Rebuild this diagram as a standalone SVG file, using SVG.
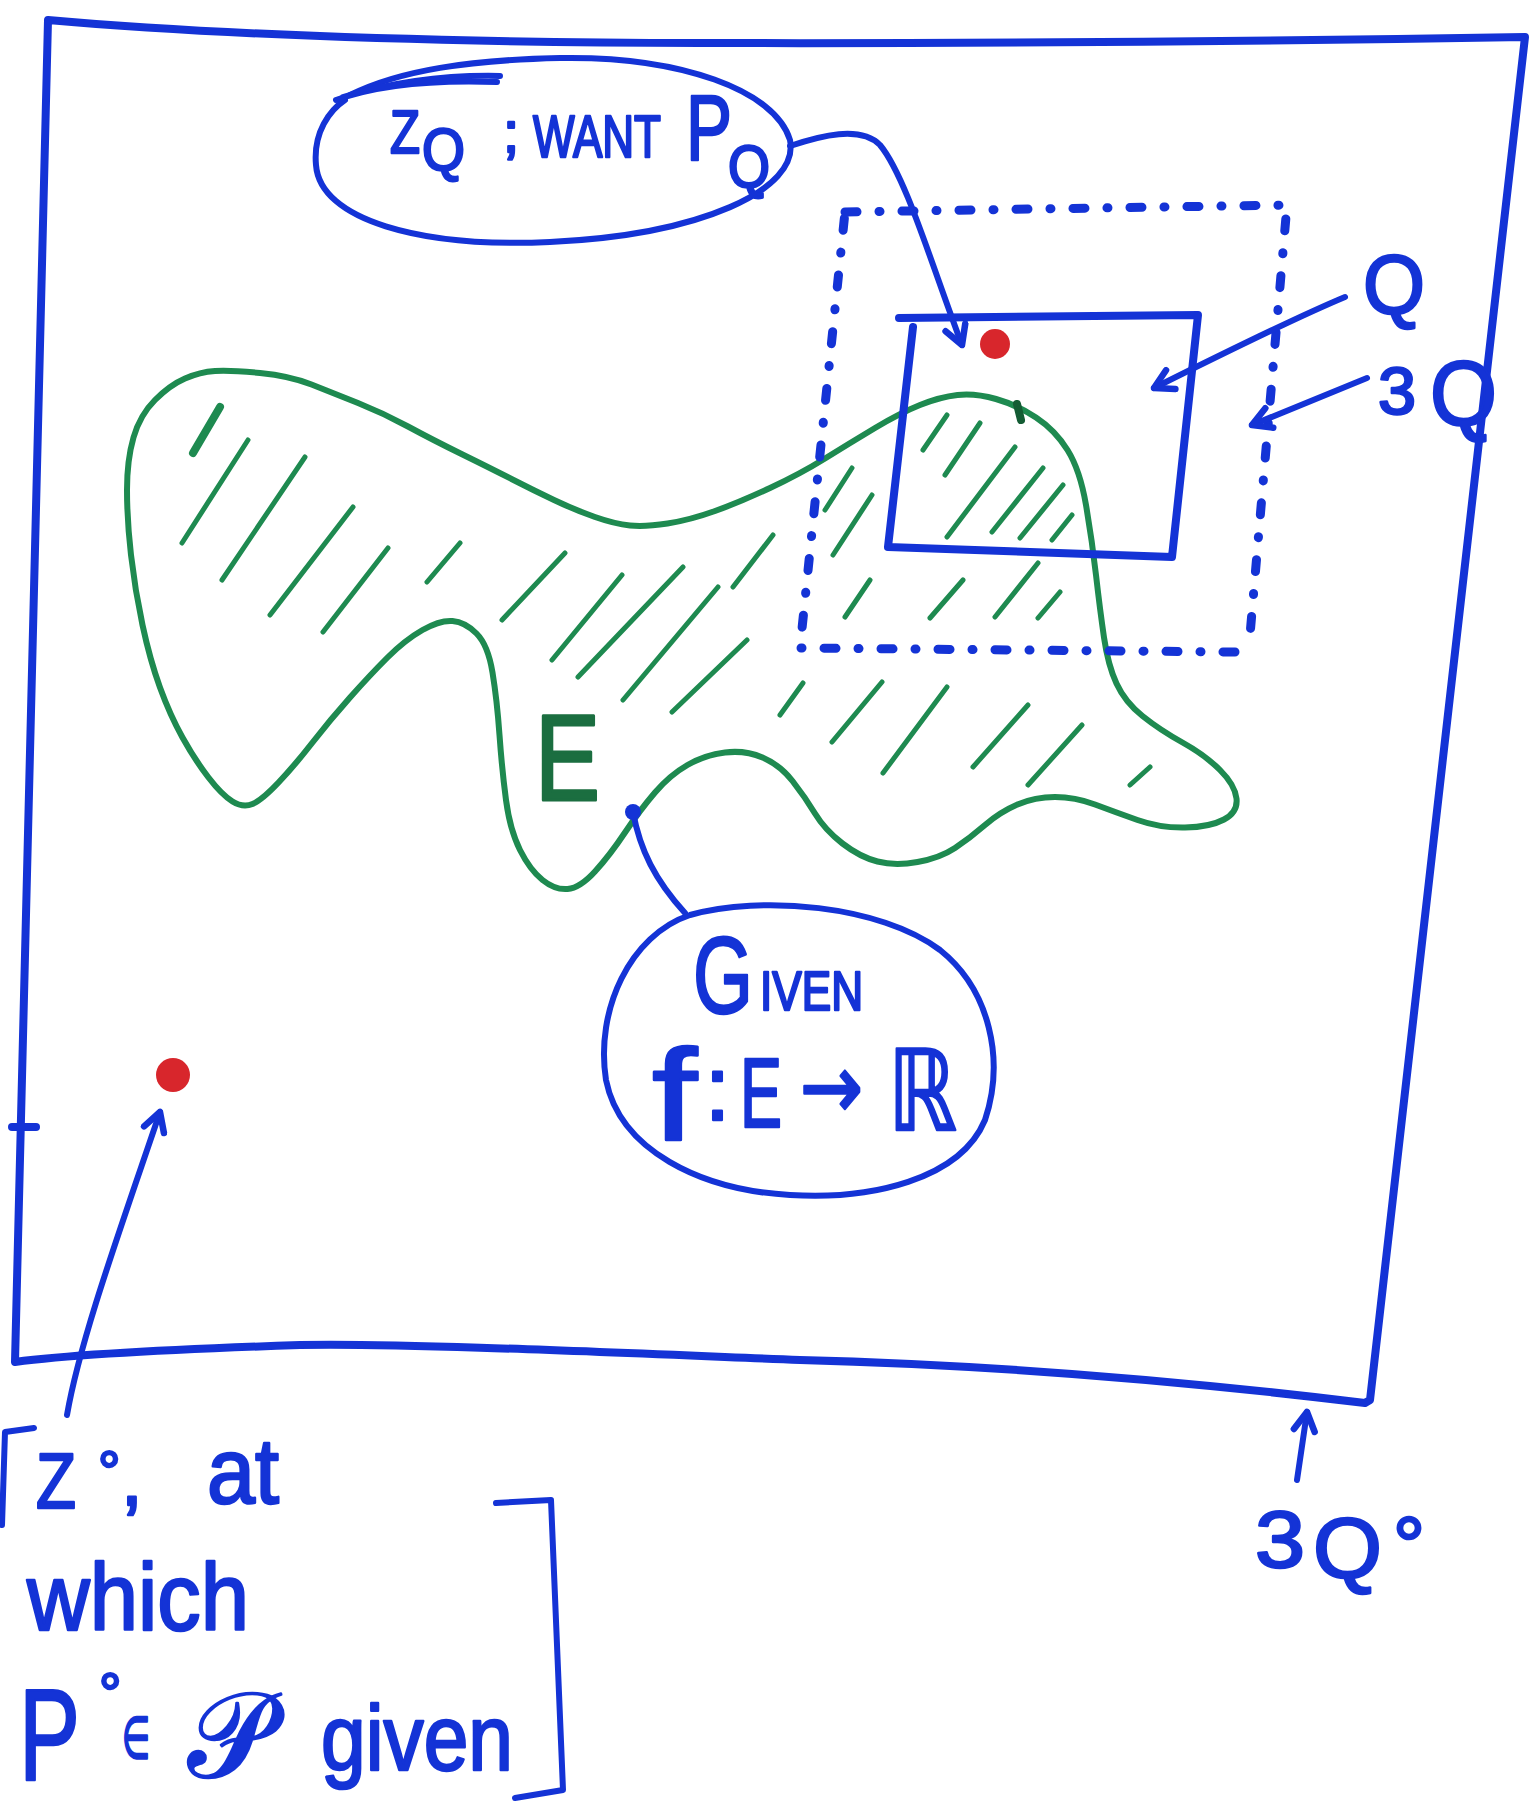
<svg xmlns="http://www.w3.org/2000/svg" width="1534" height="1818" viewBox="0 0 1534 1818">
<style>
.b{fill:none;stroke:#1433d6;stroke-width:8;stroke-linecap:round;stroke-linejoin:round}
.thin{fill:none;stroke:#1433d6;stroke-width:6;stroke-linecap:round;stroke-linejoin:round}
.dash{fill:none;stroke:#1433d6;stroke-width:9;stroke-linecap:round;stroke-dasharray:12 22 1 22}
.g{fill:none;stroke:#1e8a50;stroke-width:6;stroke-linecap:round;stroke-linejoin:round}
.h{fill:none;stroke:#1e8a50;stroke-width:5;stroke-linecap:round}
.t{fill:#1433d6;stroke:#1433d6;stroke-width:2.5;stroke-linejoin:round;font-family:"Liberation Sans","DejaVu Sans",sans-serif}
.m{font-family:"DejaVu Sans","Liberation Sans",sans-serif}
.e{fill:#1b6e40;stroke:#1b6e40;stroke-width:3;stroke-linejoin:round;font-family:"Liberation Sans",sans-serif}
.red{fill:#d8262c}
</style>
<defs>
<marker id="ah" viewBox="0 0 12 12" refX="10" refY="6" markerWidth="28" markerHeight="28" markerUnits="userSpaceOnUse" orient="auto">
<path d="M2,1.5 L10,6 L2,10.5" fill="none" stroke="#1433d6" stroke-width="2.8" stroke-linecap="round" stroke-linejoin="round"/>
</marker>
</defs>
<rect width="1534" height="1818" fill="#ffffff"/>

<g id="frame">
<path class="b" d="M48,20 Q300,42 700,43 T1525,37 L1370,1400 L1365,1403 C1200,1383 1000,1365 800,1360 C600,1352 400,1343 300,1345 C150,1350 60,1356 15,1362 L48,20 Z"/>
<path class="b" d="M12,1127 L36,1127"/>
</g>

<g id="region-E">
<path class="g" d="M215,371 Q230,370 260,373 Q290,376 311.5,384.5 Q333,393 358,403 Q383,413 408,426.5 Q433,440 461.5,454 Q490,468 511.5,479 Q533,490 554,500 Q575,510 595,517 Q615,524 630,525.5 Q645,527 667.5,523.5 Q690,520 715,511 Q740,502 770,488 Q800,474 825,458.5 Q850,443 875,428 Q900,413 920,405 Q940,397 957.5,395 Q975,393 996,399 Q1017,405 1036,417.5 Q1055,430 1067.5,450 Q1080,470 1086,505 Q1092,540 1096,575 Q1100,610 1104,637.5 Q1108,665 1116.5,683.5 Q1125,702 1142.5,716 Q1160,730 1182.5,742.5 Q1205,755 1220,770 Q1235,785 1236.5,798.5 Q1238,812 1224,819.5 Q1210,827 1185,827.5 Q1160,828 1137.5,820 Q1115,812 1095,804.5 Q1075,797 1055,797 Q1035,797 1017.5,804.5 Q1000,812 985,825 Q970,838 955,848 Q940,858 917.5,862 Q895,866 877.5,861.5 Q860,857 842.5,843.5 Q825,830 815,813.5 Q805,797 792.5,781 Q780,765 762.5,757.5 Q745,750 725,752.5 Q705,755 687.5,765 Q670,775 655,792.5 Q640,810 625,832.5 Q610,855 595,871.5 Q580,888 567.5,889 Q555,890 542.5,880 Q530,870 520,850 Q510,830 506,800 Q502,770 499.5,735 Q497,700 492.5,672.5 Q488,645 476.5,633.5 Q465,622 452.5,621 Q440,620 422.5,630 Q405,640 387.5,657.5 Q370,675 350,697.5 Q330,720 312.5,742.5 Q295,765 278.5,782.5 Q262,800 252.5,804 Q243,808 232.5,801.5 Q222,795 208.5,777.5 Q195,760 182.5,737.5 Q170,715 160,687.5 Q150,660 142.5,625 Q135,590 131,555 Q127,520 127,490 Q127,460 133.5,437.5 Q140,415 155,400 Q170,385 185,378.5 Q200,372 215,371 Z"/>
<path d="M1017,404 L1021,420" stroke="#145c34" stroke-width="8" stroke-linecap="round"/>
<path class="h" style="stroke-width:8" d="M193,453 L220,407"/>
<path class="h" d="M182,543 L248,440 M222,580 L305,457 M270,615 L353,507 M323,632 L388,548 M427,582 L460,543 M502,620 L565,553 M552,660 L622,575 M578,677 L683,567 M623,700 L718,587 M672,712 L747,640 M733,587 L773,535 M825,510 L852,468 M833,555 L872,495 M845,617 L870,580 M780,715 L803,683 M832,742 L882,682 M883,773 L947,687 M930,618 L963,580 M973,767 L1028,705 M995,617 L1038,563 M1038,618 L1060,592 M923,450 L947,415 M945,475 L980,423 M947,537 L1015,447 M992,532 L1043,468 M1020,538 L1063,485 M1052,540 L1072,515 M1028,785 L1082,725 M1130,785 L1150,767"/>
<text class="e" x="535" y="800" font-size="122" textLength="65" lengthAdjust="spacingAndGlyphs">E</text>
</g>

<g id="box-3Q">
<path class="dash" d="M845,212 L1287,205 L1250,635 M1235,652 L800,648 L845,212"/>
</g>

<g id="box-Q">
<path class="b" d="M899,318 L1198,315 L1172,557 L888,547 L913,327"/>
<circle class="red" cx="995" cy="344" r="15"/>
</g>

<g id="note-zq">
<path class="thin" d="M350,95 C400,70 470,60 560,58 C680,56 775,90 790,140 C800,190 700,235 550,242 C420,248 320,220 316,165 C313,132 330,110 345,100"/>
<path class="thin" d="M336,100 C380,84 440,80 497,82 M343,97 C400,80 455,75 500,76"/>
<text class="t" font-size="60"><tspan x="390" y="153" font-size="62" textLength="30" lengthAdjust="spacingAndGlyphs">Z</tspan><tspan x="422" y="170" textLength="43" lengthAdjust="spacingAndGlyphs">Q</tspan><tspan x="503" y="152" font-size="58">;</tspan><tspan x="533" y="157" textLength="128" lengthAdjust="spacingAndGlyphs">WANT</tspan><tspan x="686" y="160" font-size="92" textLength="46" lengthAdjust="spacingAndGlyphs">P</tspan><tspan x="728" y="187" textLength="42" lengthAdjust="spacingAndGlyphs">Q</tspan></text>
</g>

<g id="label-Q">
<text class="t" x="1363" y="313" font-size="84" textLength="62" lengthAdjust="spacingAndGlyphs">Q</text>
</g>
<g id="label-3Q">
<text class="t" font-size="90"><tspan x="1378" y="414" font-size="66" textLength="38" lengthAdjust="spacingAndGlyphs">3</tspan><tspan x="1430" y="425" textLength="67" lengthAdjust="spacingAndGlyphs">Q</tspan></text>
</g>

<g id="note-given">
<path class="thin" d="M690,915 C760,895 880,905 940,950 C990,990 1005,1060 985,1120 C960,1180 870,1200 790,1195 C700,1190 620,1150 606,1080 C595,1010 630,935 690,915 Z"/>
<text class="t" font-size="56"><tspan x="693" y="1013" font-size="110" textLength="60" lengthAdjust="spacingAndGlyphs">G</tspan><tspan x="760" y="1010" textLength="103" lengthAdjust="spacingAndGlyphs">IVEN</tspan></text>
<text class="t" font-size="98"><tspan x="652" y="1140" font-size="130" textLength="45" lengthAdjust="spacingAndGlyphs">f</tspan><tspan x="705" y="1120" font-size="90">:</tspan><tspan x="740" y="1127" textLength="42" lengthAdjust="spacingAndGlyphs">E</tspan><tspan class="m" x="800" y="1118" font-size="90" textLength="63" lengthAdjust="spacingAndGlyphs">→</tspan><tspan class="m" x="888" y="1130" font-size="112" textLength="69" lengthAdjust="spacingAndGlyphs">ℝ</tspan></text>
</g>

<g id="dot-z0">
<circle class="red" cx="173" cy="1075" r="17"/>
</g>

<g id="note-z0">
<path class="thin" d="M34,1428 L5,1432 L2,1525"/>
<text class="t" font-size="78"><tspan x="36" y="1508" textLength="40" lengthAdjust="spacingAndGlyphs">Z</tspan><tspan x="98" y="1490" font-size="56">°</tspan><tspan x="121" y="1505">,</tspan><tspan x="207" y="1503" font-size="92" textLength="72" lengthAdjust="spacingAndGlyphs">at</tspan></text>
<text class="t" x="27" y="1630" font-size="95" textLength="222" lengthAdjust="spacingAndGlyphs">which</text>
<text class="t" font-size="92"><tspan x="19" y="1780" font-size="130" textLength="61" lengthAdjust="spacingAndGlyphs">P</tspan><tspan x="99" y="1712" font-size="56">°</tspan><tspan class="m" x="122" y="1758" font-size="58" textLength="28" lengthAdjust="spacingAndGlyphs">∈</tspan><tspan class="m" x="188" y="1777" font-size="120" textLength="84" lengthAdjust="spacingAndGlyphs">𝒫</tspan><tspan x="321" y="1770" textLength="192" lengthAdjust="spacingAndGlyphs">given</tspan></text>
<path class="thin" d="M496,1503 L551,1500 L563,1790 L515,1798"/>
</g>

<g id="label-3Q0">
<text class="t" font-size="80"><tspan x="1255" y="1567" textLength="50" lengthAdjust="spacingAndGlyphs">3</tspan><tspan x="1313" y="1578" font-size="86" textLength="69" lengthAdjust="spacingAndGlyphs">Q</tspan><tspan x="1393" y="1573">°</tspan></text>
</g>

<g id="connectors">
<path class="thin" marker-end="url(#ah)" d="M790,146 C820,136 860,125 880,145 C905,175 930,260 962,345"/>
<path class="thin" marker-end="url(#ah)" d="M1345,297 Q1290,320 1154,388"/>
<path class="thin" marker-end="url(#ah)" d="M1367,378 L1252,425"/>
<path class="thin" marker-end="url(#ah)" d="M67,1415 C80,1340 120,1230 160,1112"/>
<path class="thin" marker-end="url(#ah)" d="M1297,1480 L1307,1412"/>
<path class="thin" d="M633,812 C640,850 655,880 685,913"/>
<circle cx="633" cy="812" r="8" fill="#1433d6"/>
</g>
</svg>
